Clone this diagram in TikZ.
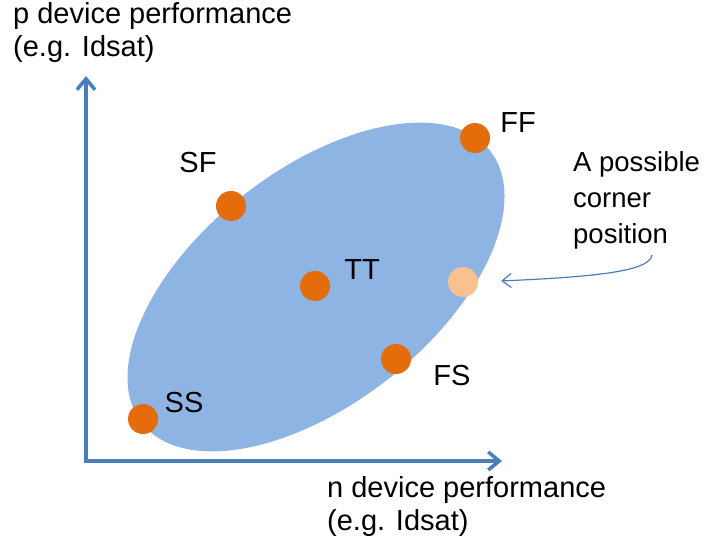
\documentclass[tikz,border=0pt]{standalone}
\usepackage{fontspec}
\setmainfont{Liberation Sans}
\usetikzlibrary{arrows.meta}
\definecolor{axisblue}{RGB}{74,126,187}
\definecolor{cloudblue}{RGB}{141,180,226}
\definecolor{cornoran}{RGB}{228,108,10}
\definecolor{cornpale}{RGB}{250,192,144}

\begin{document}
\begin{tikzpicture}[x=1pt,y=-1pt,
    axis/.style={draw=axisblue,line width=3.5pt,
                 {Straight Barb[length=11pt,width=18pt]}-{Straight Barb[length=11pt,width=18pt]}},
    pointer/.style={draw=axisblue,line width=1.2pt,
                 -{Straight Barb[length=9pt,width=14pt]},shorten >=23pt},
    corner/.style={circle,fill=cornoran,minimum size=30pt,inner sep=0pt},
    tag/.style={font=\fontsize{29}{33}\selectfont,inner sep=0pt},
    note/.style={font=\fontsize{27.5}{36}\selectfont,inner sep=0pt,align=left}
  ]
  \useasboundingbox (0,0) rectangle (706,540);

  % spread of the process
  \fill[cloudblue,rotate around={38:(316,287)}] (316,287) ellipse [x radius=221,y radius=117];

  % axes
  \coordinate (origin) at (86,461);
  \coordinate (ytip) at (86,76);
  \coordinate (xtip) at (502,461);
  \draw[axis] (ytip) -- (origin) -- (xtip);
  \node[tag,anchor=base west,align=left] (ylabel) at (13,57) {p device performance\\(e.g. Idsat)};
  \node[tag,anchor=base west,align=left] (xlabel) at (327,530) {n device performance\\(e.g. Idsat)};

  % corners
  \node[corner] (ss) at (143,419) {};
  \node[corner] (sf) at (231,206) {};
  \node[corner] (tt) at (315,286) {};
  \node[corner] (ff) at (475,138) {};
  \node[corner] (fs) at (396,359) {};
  \node[corner,fill=cornpale] (alt) at (463,282) {};

  \node[tag] (ssname) at (184,403) {SS};
  \node[tag] (sfname) at (198,163) {SF};
  \node[tag] (ttname) at (362,270) {TT};
  \node[tag] (ffname) at (518,123) {FF};
  \node[tag] (fsname) at (452,376) {FS};

  \node[note,anchor=base west] (hint) at (573,243) {A possible\\corner\\position};
  \coordinate (hinttail) at (652,255);
  \draw[pointer] (hinttail) .. controls (650,272) and (590,277) .. (alt.east);
\end{tikzpicture}
\end{document}
